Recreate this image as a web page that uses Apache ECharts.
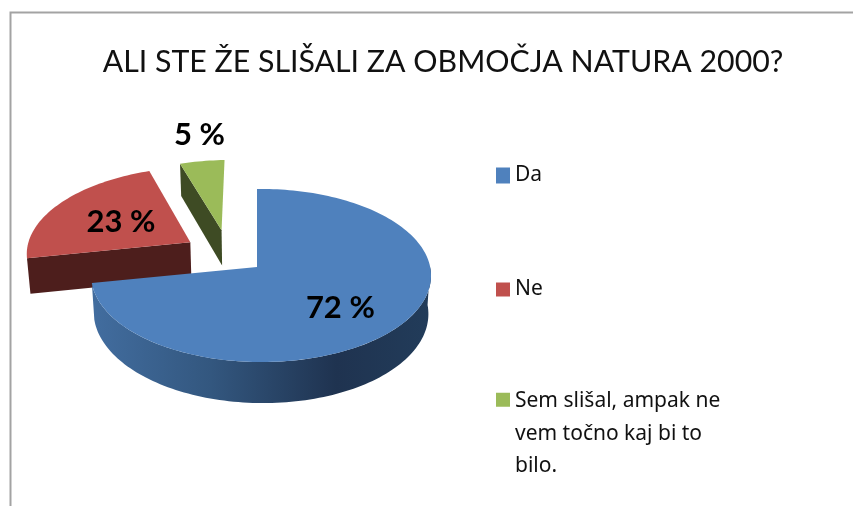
<!DOCTYPE html>
<html>
<head>
<meta charset="utf-8">
<title>Natura 2000</title>
<style>
  html, body { margin: 0; padding: 0; background: #fff; }
  #chart { width: 853px; height: 506px; }
</style>
<script src="https://cdn.jsdelivr.net/npm/echarts@6/dist/echarts.min.js"></script>
</head>
<body>
<div id="chart"></div>
<script>
const titleText = 'ALI STE ŽE SLIŠALI ZA OBMOČJA NATURA 2000?'
const categories = ['Da', 'Ne', 'Sem slišal, ampak ne\nvem točno kaj bi to\nbilo.']
const values = [72, 23, 5]
const topColors = ['#4f81bd', '#c0504d', '#9bbb59']
const wallColors = ['#1f3350', '#4d1e1c', '#3e4b24']

// fake 3d: unit circle seen through a small perspective
const cx = 257
const cy = 267
const rx = 169
const ry = 85.7
const tiltV = 0.098
const tiltU = -0.024
const depth = 37
const floorShrink = 0.985

// how far each slice is pulled out, in unit circle coordinates
const explode = [[0, 0], [-0.41, 0.3], [-0.22, 0.45]]
const sliceScale = [1, 1.03, 0.98]
const labelRadius = [0.65, 0.53, 1.41]
const labelShift = [[-6, 4], [0, 0], [5, 1]]

function project (u, v) {
  const d = 1 + tiltV * v + tiltU * u
  return [cx + rx * u / d, cy - ry * v / d]
}

function projectFloor (u, v) {
  const d = 1 + tiltV * v + tiltU * u
  const p = project(u, v)
  return [cx + (p[0] - cx) * floorShrink, p[1] + depth / d]
}

function rimPoints (i, from, to, fn) {
  const pts = []
  const steps = Math.max(4, Math.ceil(Math.abs(to - from) / 1.5))
  const r = sliceScale[i]
  for (let s = 0; s <= steps; s++) {
    const a = (from + (to - from) * s / steps) * Math.PI / 180
    pts.push(fn(explode[i][0] + r * Math.sin(a), explode[i][1] + r * Math.cos(a)))
  }
  return pts
}

const total = values.reduce((a, b) => a + b, 0)

function renderSlice (i) {
  return function (params, api) {
    let before = 0
    for (let k = 0; k < i; k++) before += values[k]
    const start = before / total * 360
    const end = (before + api.value(0)) / total * 360
    const ex = explode[i]

    const apex = project(ex[0], ex[1])
    const apexFloor = projectFloor(ex[0], ex[1])
    const children = []

    if (i === 0) {
      // front of the big slice, the only round wall you can see
      const top = rimPoints(i, 90, end, project)
      const floor = rimPoints(i, 90, end, projectFloor)
      children.push({
        type: 'polygon',
        shape: { points: top.concat(floor.reverse()) },
        style: {
          fill: {
            type: 'linear', x: 0, y: 0, x2: 1, y2: 0,
            colorStops: [
              { offset: 0, color: '#426d9f' },
              { offset: 0.35, color: '#33577f' },
              { offset: 0.72, color: '#1f3350' },
              { offset: 1, color: '#223c5a' }
            ]
          }
        }
      })
    } else {
      // flat cut face towards the viewer
      const rim = rimPoints(i, start, start, project)[0]
      const rimFloor = rimPoints(i, start, start, projectFloor)[0]
      children.push({
        type: 'polygon',
        shape: { points: [apex, rim, rimFloor, apexFloor] },
        style: { fill: wallColors[i] }
      })
    }

    children.push({
      type: 'polygon',
      shape: { points: [apex].concat(rimPoints(i, start, end, project)) },
      style: { fill: topColors[i] }
    })

    const mid = (start + end) / 2 * Math.PI / 180
    const lp = project(ex[0] + labelRadius[i] * Math.sin(mid), ex[1] + labelRadius[i] * Math.cos(mid))
    children.push({
      type: 'text',
      z2: 10,
      style: {
        x: lp[0] + labelShift[i][0],
        y: lp[1] + labelShift[i][1],
        text: api.value(0) + ' %',
        font: 'bold 31px Lato',
        fill: '#000',
        align: 'center',
        verticalAlign: 'middle'
      }
    })

    return { type: 'group', children: children }
  }
}

// red and green first, the blue slice sits over the red wall
const series = [1, 2, 0].map(i => ({
  type: 'custom',
  name: categories[i],
  coordinateSystem: 'none',
  silent: true,
  itemStyle: { color: topColors[i] },
  data: [[values[i]]],
  renderItem: renderSlice(i)
}))

const legendText = { fontFamily: 'Noto Sans', fontSize: 21, color: '#111' }

const option = {
  animation: false,
  backgroundColor: '#fff',
  title: {
    text: titleText,
    left: 438,
    top: 42,
    textAlign: 'center',
    textStyle: { fontFamily: 'Lato', fontSize: 30.3, fontWeight: 'normal', color: '#111' }
  },
  legend: [
    {
      data: [categories[0]], left: 496, top: 165, itemWidth: 14, itemHeight: 16, itemGap: 8,
      padding: 0, icon: 'rect', selectedMode: false, textStyle: legendText
    },
    {
      data: [categories[1]], left: 496, top: 279, itemWidth: 14, itemHeight: 14, itemGap: 8,
      padding: 0, icon: 'rect', selectedMode: false, textStyle: legendText
    },
    {
      // icon stays level with the first text line
      data: [categories[2]], left: 496, top: 385, itemWidth: 14, itemHeight: 96, itemGap: 8,
      padding: 0, icon: 'path://M0 7H14V21H0ZM0 0L0 0M14 96L14 96', selectedMode: false,
      textStyle: Object.assign({ lineHeight: 32.5 }, legendText)
    }
  ],
  graphic: [{
    type: 'rect',
    silent: true,
    shape: { x: 10.5, y: 12.5, width: 900, height: 600 },
    style: { fill: 'none', stroke: '#a3a3a3', lineWidth: 2 }
  }],
  series: series
}

const chart = echarts.init(document.getElementById('chart'))
chart.setOption(option)
</script>
</body>
</html>
